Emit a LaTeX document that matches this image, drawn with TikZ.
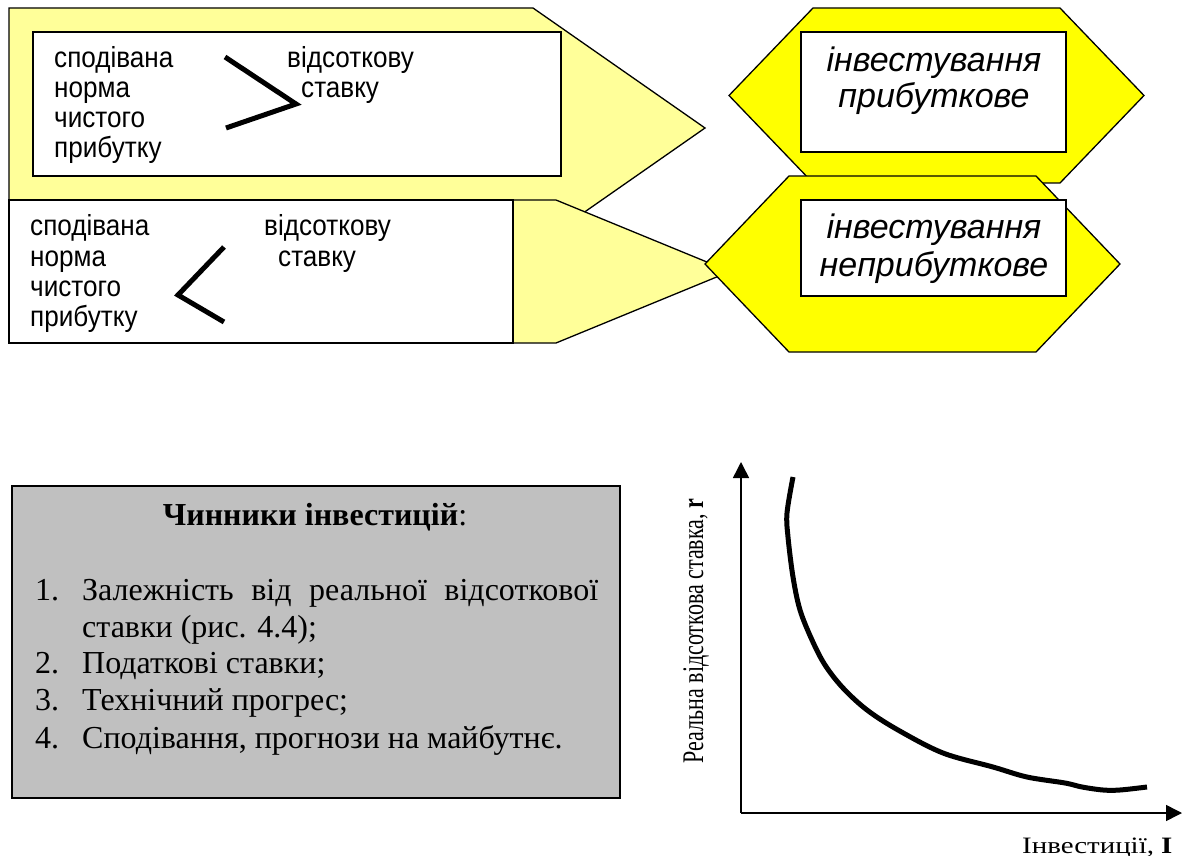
\documentclass[tikz,border=0pt]{standalone}
\usepackage{fontspec}
\setmainfont{Liberation Serif}
\setsansfont{Liberation Sans}
\usetikzlibrary{arrows.meta}
\definecolor{lyel}{HTML}{FFFF99}
\definecolor{yel}{HTML}{FFFF00}
\definecolor{gry}{HTML}{C0C0C0}
\newcommand{\sqz}[1]{\scalebox{0.9}[1]{#1}}
\tikzset{
  shp/.style={draw=black, line width=1.3pt, line join=miter},
  wbox/.style={draw=black, fill=white, line width=1.8pt},
  smalltxt/.style={font=\sffamily\fontsize{29}{30}\selectfont, anchor=base west, inner sep=0pt},
  bigtxt/.style={font=\sffamily\itshape\fontsize{34}{36}\selectfont, anchor=base, inner sep=0pt},
  listtxt/.style={font=\fontsize{32}{37}\selectfont, anchor=base west, inner sep=0pt},
  sign/.style={line width=5pt, line join=miter},
  axis/.style={line width=1.5pt, -{Triangle[length=16pt,width=16pt]}},
}
\begin{document}
\begin{tikzpicture}[x=1pt,y=-1pt]
\useasboundingbox (0,0) rectangle (1192,856);

% top pentagon
\filldraw[shp, fill=lyel] (9,8) -- (533,8) -- (705,128) -- (533,248) -- (9,248) -- cycle;
\draw[wbox] (33,32) rectangle (561,176);
\node[smalltxt] (ta) at (54,68) {\sqz{сподівана}};
\node[smalltxt] (tb) at (54,98) {\sqz{норма}};
\node[smalltxt] (tc) at (54,128) {\sqz{чистого}};
\node[smalltxt] (td) at (54,158) {\sqz{прибутку}};
\node[smalltxt] (te) at (287,68) {\sqz{відсоткову}};
\node[smalltxt] (tf) at (301,98) {\sqz{ставку}};
\draw[sign] (225,57) -- (296,104) -- (226,128);

% bottom pentagon
\filldraw[shp, fill=lyel] (9,200) -- (556,200) -- (730,271.5) -- (556,343) -- (9,343) -- cycle;
\draw[shp, fill=white] (9,200) rectangle (513,343);
\node[smalltxt] (ba) at (30,235) {\sqz{сподівана}};
\node[smalltxt] (bb) at (30,266) {\sqz{норма}};
\node[smalltxt] (bc) at (30,296) {\sqz{чистого}};
\node[smalltxt] (bd) at (30,326) {\sqz{прибутку}};
\node[smalltxt] (be) at (264,235) {\sqz{відсоткову}};
\node[smalltxt] (bf) at (278,266) {\sqz{ставку}};
\draw[sign] (224,247) -- (178,295) -- (224,322);

% upper hexagon
\filldraw[shp, fill=yel] (813,8) -- (1060,8) -- (1144,95.5) -- (1060,183) -- (813,183) -- (729,95.5) -- cycle;
\draw[wbox] (801,32) rectangle (1066,152);
\node[bigtxt] (h1a) at (934,72) {інвестування};
\node[bigtxt] (h1b) at (934,108) {прибуткове};

% lower hexagon
\filldraw[shp, fill=yel] (789,176) -- (1036,176) -- (1120,264) -- (1036,352) -- (789,352) -- (705,264) -- cycle;
\draw[wbox] (801,200) rectangle (1066,296);
\node[bigtxt] (h2a) at (934,238) {інвестування};
\node[bigtxt] (h2b) at (934,276) {неприбуткове};

% grey box
\filldraw[draw=black, line width=1.8pt, fill=gry] (12,486) rectangle (620,798);
\node[font=\fontsize{32}{37}\selectfont, anchor=base, inner sep=0pt] (title) at (315,525) {\textbf{Чинники інвестицій}:};
\node[listtxt] (n1) at (35,600) {1.};
\node[listtxt] (l1) at (82,600) {\makebox[516pt][s]{Залежність від реальної відсоткової}};
\node[listtxt] (l1b) at (82,637) {ставки (рис. 4.4);};
\node[listtxt] (n2) at (35,673) {2.};
\node[listtxt] (l2) at (82,673) {Податкові ставки;};
\node[listtxt] (n3) at (35,710) {3.};
\node[listtxt] (l3) at (82,710) {Технічний прогрес;};
\node[listtxt] (n4) at (35,748) {4.};
\node[listtxt] (l4) at (82,748) {Сподівання, прогнози на майбутнє.};

% chart
\coordinate (O) at (741,813);
\coordinate (Ytop) at (741,462);
\coordinate (Xend) at (1182,813);
\draw[axis] (O) -- (Ytop);
\draw[axis] (O) -- (Xend);
\draw[line width=5pt] plot[smooth, tension=0.55] coordinates {(793,477) (787,513) (788,537) (793,577) (800,610) (812,640) (825,665) (843,688) (867,710) (898,730) (943,753) (993,767) (1027,777) (1065,783) (1082,787) (1103,790) (1120,790) (1147,787)};
\node[rotate=90, anchor=base, inner sep=0pt] (ylab) at (703,631) {\scalebox{1}[1.36]{\fontsize{22}{22}\selectfont Реальна відсоткова ставка, \textbf{r}}};
\node[anchor=base west, inner sep=0pt] (xlab) at (1022,853) {\scalebox{1.23}[1]{\fontsize{23.5}{24}\selectfont Інвестиції, \textbf{I}}};
\end{tikzpicture}
\end{document}
